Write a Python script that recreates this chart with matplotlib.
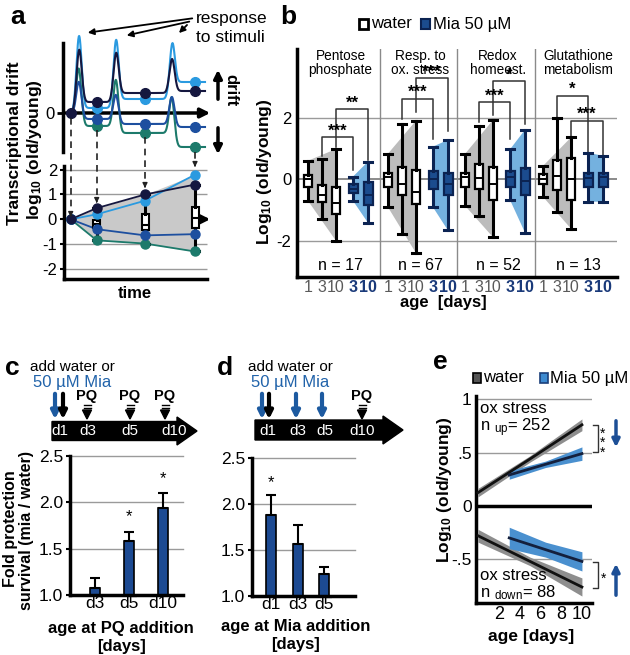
import numpy as np
import matplotlib
matplotlib.use('Agg')
import matplotlib.pyplot as plt
from matplotlib.patches import Polygon, Rectangle, FancyArrow

plt.rcParams['font.family'] = ['Liberation Sans', 'DejaVu Sans']
plt.rcParams['mathtext.fontset'] = 'custom'
plt.rcParams['mathtext.rm'] = 'Liberation Sans'
plt.rcParams['mathtext.bf'] = 'Liberation Sans:bold'
plt.rcParams['mathtext.it'] = 'Liberation Sans:italic'

# ---------------- data ----------------
# panel a: schematic
a_time = [70.7, 96.7, 145, 195]          # sampling times (schematic units)
a_stim = [79, 116, 172]                   # stimulus times
a_colors = ['#15173f', '#2a9ae0', '#1d4f9f', '#1c7a6b']
a_levels_navy = [0, 11, 20, 22]
a_levels_light = [0, 5, 14, 31]
a_levels_mid = [0, -6, -11, -14]
a_levels_teal = [0, -13, -20, -34]
a_peaks_navy = [63, 60, 54]
a_peaks_light = [77, 73, 69]
a_peaks_mid = [31, 18, 16]
a_peaks_teal = [44, 33, 15]
a_drift_navy = [0, 0.45, 1.0, 1.4]
a_drift_light = [0, 0.2, 0.75, 1.8]
a_drift_mid = [0, -0.4, -0.65, -0.6]
a_drift_teal = [0, -0.85, -0.98, -1.3]
a_box_q1 = [-0.36, -0.42, -0.36]
a_box_med = [-0.18, -0.22, 0.05]
a_box_q3 = [-0.03, 0.2, 0.5]

# panel b: boxes per group (water d1, d3, d10, Mia d3, d10)
b_groups = ['Pentose\nphosphate', 'Resp. to\nox. stress', 'Redox\nhomeost.', 'Glutathione\nmetabolism']
b_n = [17, 67, 52, 13]
b_ages = ['1', '3', '10', '3', '10']
b_whislo = [[-0.70, -1.31, -2.01, -0.70, -1.42], [-0.91, -1.78, -2.41, -0.91, -1.67],
            [-0.86, -1.19, -1.89, -0.67, -1.74], [-0.57, -1.06, -1.61, -0.73, -0.73]]
b_q1 = [[-0.24, -0.75, -1.14, -0.43, -0.84], [-0.24, -0.52, -0.82, -0.30, -0.52],
        [-0.24, -0.33, -0.67, -0.24, -0.52], [-0.16, -0.35, -0.66, -0.26, -0.26]]
b_med = [[0.01, -0.51, -0.77, -0.30, -0.51], [0.07, -0.16, -0.41, 0.0, -0.16],
         [0.07, 0.03, -0.16, 0.07, -0.04], [0.01, 0.12, 0.01, 0.05, 0.09]]
b_q3 = [[0.14, -0.19, -0.26, -0.15, -0.10], [0.20, 0.40, 0.31, 0.26, 0.22],
        [0.20, 0.51, 0.40, 0.26, 0.37], [0.16, 0.63, 0.69, 0.20, 0.22]]
b_whishi = [[0.61, 0.66, 0.99, 0.09, 0.58], [0.84, 1.81, 1.92, 1.07, 1.29],
            [0.83, 1.76, 1.94, 0.98, 1.62], [0.44, 2.00, 1.37, 0.87, 0.77]]
b_sig_labels = [['***', '**'], ['***', '***'], ['***', '*'], ['*', '***']]
b_sig_height = [[1.38, 2.30], [2.64, 3.31], [2.53, 3.22], [2.74, 1.92]]
b_sig_leg_left = [[0.75, 1.05], [1.96, 2.20], [1.89, 2.09], [2.05, 1.40]]
b_sig_leg_right = [[0.31, 0.63], [1.33, 1.59], [1.31, 1.81], [0.91, 0.80]]

# panel c / d
c_labels = ['d3', 'd5', 'd10']
c_vals = [1.08, 1.58, 1.94]
c_err = [0.10, 0.10, 0.16]
c_sig = ['', '*', '*']
d_labels = ['d1', 'd3', 'd5']
d_vals = [1.88, 1.57, 1.24]
d_err = [0.22, 0.20, 0.07]
d_sig = ['*', '', '']

# panel e
e_age_water = [0, 5, 10]
e_age_mia = [3, 6.5, 10]
e_up_water = [0.125, 0.44, 0.76]
e_up_water_ci = [0.04, 0.03, 0.055]
e_up_mia = [0.29, 0.39, 0.49]
e_up_mia_ci = [0.04, 0.03, 0.063]
e_dn_water = [-0.28, -0.52, -0.76]
e_dn_water_ci = [0.06, 0.04, 0.085]
e_dn_mia = [-0.30, -0.41, -0.52]
e_dn_mia_ci = [0.10, 0.07, 0.09]

# ---------------- figure ----------------
W, H = 630, 655
fig = plt.figure(figsize=(W / 100, H / 100), dpi=100)


def ax_px(x0, y0, x1, y1):
    a = fig.add_axes([x0 / W, 1 - y1 / H, (x1 - x0) / W, (y1 - y0) / H])
    a.patch.set_alpha(0)
    return a


GRID = '#9a9a9a'
NAVY = '#1c4a92'
BLUE_TXT = '#2163aa'

# ---------- panel a top (schematic) ----------
axt = ax_px(63, 28, 215, 160)
axt.set_xlim(63, 215)
axt.set_ylim(-47, 85)
for s in ['top', 'right', 'bottom']:
    axt.spines[s].set_visible(False)
axt.spines['left'].set_bounds(-39, 70)
axt.spines['left'].set_linewidth(2.5)
axt.set_xticks([])
axt.set_yticks([0])
axt.set_yticklabels(['0'], fontsize=12)
axt.tick_params(axis='y', length=4, width=2, pad=2)
axt.annotate('', xy=(213, 0), xytext=(63, 0),
             arrowprops=dict(arrowstyle='-|>', color='k', lw=2.5, mutation_scale=14),
             annotation_clip=False)

xs = np.linspace(a_time[0], 205, 800)


def schematic(levels, peaks, width=2.6):
    y = np.full_like(xs, float(levels[0]))
    for i, xp in enumerate(a_stim):
        step = 1 / (1 + np.exp(-(xs - xp) / 1.2))
        y += (levels[i + 1] - levels[i]) * step
        base = (levels[i] + levels[i + 1]) / 2
        y += (peaks[i] - base) * np.exp(-0.5 * ((xs - xp) / width) ** 2)
    return y


a_lv = [a_levels_navy, a_levels_light, a_levels_mid, a_levels_teal]
a_pk = [a_peaks_navy, a_peaks_light, a_peaks_mid, a_peaks_teal]
for order in [3, 2, 1, 0]:
    axt.plot(xs, schematic(a_lv[order], a_pk[order]), color=a_colors[order], lw=1.5,
             clip_on=False, zorder=3)
for order in [3, 2, 1, 0]:
    axt.plot(a_time[1:], a_lv[order][1:], 'o', color=a_colors[order], ms=7, zorder=5, clip_on=False)
axt.plot([a_time[0]], [0], 'o', color=a_colors[0], ms=7, zorder=6, clip_on=False)

# ---------- panel a bottom ----------
axb = ax_px(64, 166, 213, 279)
axb.set_xlim(64, 213)
axb.set_ylim(-2.41, 2.15)
for s in ['top', 'right']:
    axb.spines[s].set_visible(False)
axb.spines['left'].set_linewidth(2.5)
axb.spines['bottom'].set_linewidth(2.5)
axb.spines['bottom'].set_bounds(64, 207)
axb.set_xticks([])
axb.set_yticks([2, 1, 0, -1, -2])
axb.set_yticklabels(['2', '1', '0', '-1', '-2'], fontsize=12)
axb.tick_params(axis='y', length=3, width=1.5, pad=2)
axb.hlines([2, 1, -1, -2], 64, 207, color=GRID, lw=1, zorder=0)
axb.annotate('', xy=(213, 0), xytext=(64, 0),
             arrowprops=dict(arrowstyle='-|>', color='k', lw=2.5, mutation_scale=14),
             annotation_clip=False, zorder=1)
drifts = np.array([a_drift_navy, a_drift_light, a_drift_mid, a_drift_teal])
axb.fill_between(a_time, drifts.max(axis=0), drifts.min(axis=0), color='#c9c9c9', zorder=1, lw=0)
for i in [3, 2, 1, 0]:
    axb.plot(a_time, drifts[i], '-', color=a_colors[i], lw=1.3, zorder=2)
stats = []
for j in range(3):
    stats.append(dict(med=a_box_med[j], q1=a_box_q1[j], q3=a_box_q3[j],
                      whislo=drifts[:, j + 1].min(), whishi=drifts[[0, 2, 3], j + 1].max()))
bp = axb.bxp(stats, positions=a_time[1:], widths=7, capwidths=7, patch_artist=True,
             showfliers=False, manage_ticks=False,
             boxprops=dict(facecolor='white', edgecolor='k', lw=1.5),
             whiskerprops=dict(color='k', lw=2.2), capprops=dict(color='k', lw=2.2),
             medianprops=dict(color='k', lw=1.5))
for art in bp['boxes'] + bp['whiskers'] + bp['caps'] + bp['medians']:
    art.set_zorder(3)
for i in [3, 2, 1, 0]:
    axb.plot(a_time, drifts[i], 'o', color=a_colors[i], ms=6.5, zorder=4, clip_on=False)

# ---------- panel b ----------
axB = ax_px(297, 49, 617, 277)
axB.set_xlim(0, 320)
axB.set_ylim(-3.19, 4.26)
for s in ['top', 'right']:
    axB.spines[s].set_visible(False)
axB.spines['left'].set_linewidth(2.5)
axB.spines['bottom'].set_linewidth(2.5)
axB.axhline(2, color=GRID, lw=1, zorder=0)
axB.axhline(-2, color=GRID, lw=1, zorder=0)
axB.axhline(0, color='#777777', lw=1.2, zorder=0)
group_left = [3, 83, 160, 238]
group_edges = [0, 83, 160, 238, 320]
box_off = [8, 22, 36, 53, 68]
for xv in group_edges[1:-1]:
    axB.axvline(xv, color='#8a8a8a', lw=1, zorder=0)
all_pos, all_lab = [], []
for g in range(4):
    pos = [group_left[g] + o for o in box_off]
    all_pos += pos
    all_lab += b_ages
    wl, wh = b_whislo[g], b_whishi[g]
    axB.add_patch(Polygon([(pos[0], wh[0]), (pos[2], wh[2]), (pos[2], wl[2]), (pos[0], wl[0])],
                          closed=True, fc='#bcbcbc', ec='none', zorder=1))
    axB.add_patch(Polygon([(pos[3], wh[3]), (pos[4], wh[4]), (pos[4], wl[4]), (pos[3], wl[3])],
                          closed=True, fc='#74b1df', ec='none', zorder=1))
    st = [dict(med=b_med[g][k], q1=b_q1[g][k], q3=b_q3[g][k], whislo=wl[k], whishi=wh[k])
          for k in range(5)]
    bw = axB.bxp(st[:3], positions=pos[:3], widths=8, capwidths=8, patch_artist=True,
                 showfliers=False, manage_ticks=False,
                 boxprops=dict(facecolor='white', edgecolor='k', lw=1.6),
                 whiskerprops=dict(color='k', lw=2.2), capprops=dict(color='k', lw=2.2),
                 medianprops=dict(color='k', lw=1.4))
    bm = axB.bxp(st[3:], positions=pos[3:], widths=9, capwidths=8, patch_artist=True,
                 showfliers=False, manage_ticks=False,
                 boxprops=dict(facecolor='#1b4c8e', edgecolor='#0b2352', lw=1.6),
                 whiskerprops=dict(color='#0b2352', lw=2.2), capprops=dict(color='#0b2352', lw=2.2),
                 medianprops=dict(color='#0b2352', lw=1.4))
    for d in (bw, bm):
        for art in d['boxes'] + d['whiskers'] + d['caps'] + d['medians']:
            art.set_zorder(3)
    # significance brackets
    for k, (li, ri) in enumerate([(1, 3), (2, 4)]):
        yh = b_sig_height[g][k]
        axB.plot([pos[li], pos[li], pos[ri], pos[ri]],
                 [b_sig_leg_left[g][k], yh, yh, b_sig_leg_right[g][k]],
                 color='#333333', lw=1.1, zorder=2, clip_on=False)
        axB.text((pos[li] + pos[ri]) / 2, yh - 0.05, b_sig_labels[g][k], ha='center', va='bottom',
                 fontsize=12, fontweight='bold', zorder=4)
    cx = (group_edges[g] + group_edges[g + 1]) / 2
    axB.text(cx + 2, 4.26, b_groups[g], ha='center', va='top', fontsize=9.8, linespacing=0.98)
    axB.text(cx + 2, -2.8, 'n = %d' % b_n[g], ha='center', va='center', fontsize=11.5)
axB.set_xticks(all_pos)
axB.set_xticklabels(all_lab, fontsize=11.5)
for i, t in enumerate(axB.get_xticklabels()):
    if i % 5 >= 3:
        t.set_color('#1a3a7a')
        t.set_fontweight('bold')
    else:
        t.set_color('#5a5a5a')
axB.tick_params(axis='x', length=0, pad=2)
axB.set_yticks([2, 0, -2])
axB.set_yticklabels(['2', '0', '-2'], fontsize=12)
axB.tick_params(axis='y', length=0, pad=4)

# ---------- panel c ----------
axc = ax_px(70, 456, 183, 595)
axc.set_xlim(-0.74, 2.6)
axc.set_ylim(1.0, 2.5)
xc = np.arange(len(c_vals))
axc.bar(xc, np.array(c_vals) - 1.0, bottom=1.0, width=0.3, color=NAVY, edgecolor='k', lw=1.2, zorder=2)
axc.errorbar(xc, c_vals, yerr=[np.zeros(3), c_err], fmt='none', ecolor='k', elinewidth=1.5,
             capsize=3.5, capthick=1.5, zorder=3)
for i, s in enumerate(c_sig):
    if s:
        axc.text(xc[i], c_vals[i] + c_err[i] + 0.08, s, ha='center', va='bottom', fontsize=12)
axd = ax_px(252, 458, 355, 596)
axd.set_xlim(-0.72, 3.17)
axd.set_ylim(1.0, 2.5)
xd = np.arange(len(d_vals))
axd.bar(xd, np.array(d_vals) - 1.0, bottom=1.0, width=0.38, color=NAVY, edgecolor='k', lw=1.2, zorder=2)
axd.errorbar(xd, d_vals, yerr=[np.zeros(3), d_err], fmt='none', ecolor='k', elinewidth=1.5,
             capsize=3.5, capthick=1.5, zorder=3)
for i, s in enumerate(d_sig):
    if s:
        axd.text(xd[i], d_vals[i] + d_err[i] + 0.05, s, ha='center', va='bottom', fontsize=12)
for a, labs in [(axc, c_labels), (axd, d_labels)]:
    for s in ['top', 'right']:
        a.spines[s].set_visible(False)
    a.spines['left'].set_linewidth(2.5)
    a.spines['bottom'].set_linewidth(2.5)
    a.set_yticks([1.0, 1.5, 2.0, 2.5])
    a.set_yticklabels(['1.0', '1.5', '2.0', '2.5'], fontsize=12.5)
    a.tick_params(axis='y', length=3, width=1.5, pad=2)
    a.set_xticks(range(3))
    a.set_xticklabels(labs, fontsize=12.5)
    a.tick_params(axis='x', length=0, pad=1)
    for yv in [1.5, 2.0, 2.5]:
        a.axhline(yv, color=GRID, lw=1, zorder=0, clip_on=False)

# ---------- panel e ----------
axe = ax_px(476, 396, 592, 603)
axe.set_xlim(-0.2, 10.97)
axe.set_ylim(-0.91, 1.03)
for s in ['top', 'right']:
    axe.spines[s].set_visible(False)
axe.spines['left'].set_linewidth(2.5)
axe.spines['bottom'].set_linewidth(2.5)
for yv in [1, 0.5, -0.5]:
    axe.axhline(yv, color=GRID, lw=1, zorder=0)
axe.axhline(0, color='k', lw=2.5, zorder=1)
for xa, yv, ci, fc, lc in [
        (e_age_water, e_up_water, e_up_water_ci, '#8e8e8e', '#111111'),
        (e_age_water, e_dn_water, e_dn_water_ci, '#8e8e8e', '#111111'),
        (e_age_mia, e_up_mia, e_up_mia_ci, '#4a90cf', '#14203d'),
        (e_age_mia, e_dn_mia, e_dn_mia_ci, '#4a90cf', '#14203d')]:
    yv = np.array(yv)
    ci = np.array(ci)
    axe.fill_between(xa, yv - ci, yv + ci, color=fc, lw=0, zorder=2)
    axe.plot(xa, yv, color=lc, lw=2, zorder=3)
axe.set_yticks([1, 0.5, 0, -0.5])
axe.set_yticklabels(['1', '.5', '0', '-.5'], fontsize=12.5)
axe.tick_params(axis='y', length=0, pad=3)
axe.set_xticks([2, 4, 6, 8, 10])
axe.set_xticklabels(['2', '4', '6', '8', '10'], fontsize=13)
axe.tick_params(axis='x', length=0, pad=2)

# ---------- overlay annotations ----------
ov = fig.add_axes([0, 0, 1, 1])
ov.set_xlim(0, W)
ov.set_ylim(H, 0)
ov.axis('off')
ov.patch.set_alpha(0)

# panel letters
for lab, x, y in [('a', 18, 17), ('b', 288, 17), ('c', 12, 368), ('d', 225, 368), ('e', 440, 362)]:
    ov.text(x, y, lab, fontsize=19, fontweight='bold', ha='center', va='center')

# panel a annotations
ov.text(196, 18, 'response', fontsize=12.5, va='center')
ov.text(196, 37, 'to stimuli', fontsize=12.5, va='center')
for (x0, y0), (x1, y1) in [((195, 18), (85, 33)), ((192, 21), (124, 36)), ((189, 23), (177, 35))]:
    ov.annotate('', xy=(x1, y1), xytext=(x0, y0),
                arrowprops=dict(arrowstyle='-|>', color='k', lw=1.3, mutation_scale=9))
ov.annotate('', xy=(218, 67), xytext=(218, 102),
            arrowprops=dict(arrowstyle='-|>', color='k', lw=2.5, mutation_scale=12))
ov.annotate('', xy=(218, 157), xytext=(218, 125),
            arrowprops=dict(arrowstyle='-|>', color='k', lw=2.5, mutation_scale=12))
ov.text(231, 90, 'drift', rotation=270, fontsize=12, fontweight='bold', ha='center', va='center')
ov.text(15, 143, 'Transcriptional drift', rotation=90, fontsize=12.5, fontweight='bold',
        ha='center', va='center')
ov.text(34, 150, 'log$_{\\mathbf{10}}$ (old/young)', rotation=90, fontsize=12.5, fontweight='bold',
        ha='center', va='center')
ov.text(135, 293, 'time', fontsize=12, fontweight='bold', ha='center', va='center')
dash_start = [118, 130, 137, 152]
dash_end = [213, 199, 184, 163]
for x, y0, y1 in zip(a_time, dash_start, dash_end):
    ov.plot([x, x], [y0, y1], color='#222222', lw=1.2, ls=(0, (4, 3)))
    ov.annotate('', xy=(x, y1 + 4), xytext=(x, y1 - 1),
                arrowprops=dict(arrowstyle='-|>', color='#222222', lw=1, mutation_scale=7))

# panel b annotations
ov.add_patch(Rectangle((359, 19), 9, 10, fc='white', ec='k', lw=2))
ov.text(371, 24, 'water', fontsize=12, va='center')
ov.add_patch(Rectangle((421, 19), 9, 10, fc='#1b4c8e', ec='#0b2352', lw=1.5))
ov.text(433, 24, 'Mia 50 µM', fontsize=12, va='center')
ov.text(264, 172, 'Log$_{\\mathbf{10}}$ (old/young)', rotation=90, fontsize=12.5, fontweight='bold',
        ha='center', va='center')
ov.text(443, 302, 'age  [days]', fontsize=12, fontweight='bold', ha='center', va='center')

# panel c / d timelines
BLUE_ARR = '#1d5aa0'
ov.add_patch(FancyArrow(52, 431, 145, 0, width=19, head_width=28, head_length=20,
                        length_includes_head=True, color='k'))
ov.add_patch(FancyArrow(255, 430, 148, 0, width=20, head_width=28, head_length=20,
                        length_includes_head=True, color='k'))
for lab, x in [('d1', 60), ('d3', 88), ('d5', 130), ('d10', 174), ('d1', 268), ('d3', 298),
               ('d5', 325), ('d10', 362)]:
    ov.text(x, 431, lab, color='white', fontsize=11, ha='center', va='center')
for x0, txt_y in [(72, 367), (290, 367)]:
    ov.text(x0, txt_y, 'add water or', fontsize=11, ha='center', va='center')
    ov.text(x0, txt_y + 16, '50 µM Mia', fontsize=12, ha='center', va='center', color=BLUE_TXT)
for x, col in [(55, BLUE_ARR), (63, 'k'), (262, BLUE_ARR), (269, 'k'), (296, BLUE_ARR), (322, BLUE_ARR)]:
    ov.annotate('', xy=(x, 422), xytext=(x, 391),
                arrowprops=dict(arrowstyle='-|>', color=col, lw=3, mutation_scale=11))
for x in [87, 130, 165, 362]:
    ov.text(x, 396, 'PQ', fontsize=10.5, fontweight='bold', ha='center', va='center')
    ov.plot([x - 3.5, x + 3.5], [405, 405], color='k', lw=1)
    ov.plot([x - 3.5, x + 3.5], [408, 408], color='k', lw=1)
    ov.add_patch(Polygon([(x - 4.5, 410), (x + 4.5, 410), (x, 419)], closed=True, fc='k', ec='k'))
ov.text(11, 529, 'Fold protection', rotation=90, fontsize=11.5, fontweight='bold', ha='center', va='center')
ov.text(27, 530, 'survival (mia / water)', rotation=90, fontsize=11.5, fontweight='bold',
        ha='center', va='center')
ov.text(121, 628, 'age at PQ addition', fontsize=12, fontweight='bold', ha='center', va='center')
ov.text(121, 647, '[days]', fontsize=12, fontweight='bold', ha='center', va='center')
ov.text(296, 626, 'age at Mia addition', fontsize=12, fontweight='bold', ha='center', va='center')
ov.text(296, 645, '[days]', fontsize=12, fontweight='bold', ha='center', va='center')

# panel e annotations
ov.add_patch(Rectangle((473, 373), 8, 10, fc='#555555', ec='k', lw=1.2))
ov.text(483, 378, 'water', fontsize=12, va='center')
ov.add_patch(Rectangle((540, 373), 8, 10, fc='#3d8ad0', ec='#1b3f7a', lw=1.2))
ov.text(550, 378, 'Mia 50 µM', fontsize=12, va='center')
ov.text(480, 420, 'ox stress\nn $_{\\rm up}$= 252', fontsize=12, va='center', linespacing=1.0)
ov.text(480, 585, 'ox stress\nn $_{\\rm down}$= 88', fontsize=12, va='center', linespacing=1.0)
ov.plot([593, 598, 598, 593], [425, 425, 452, 452], color='#333333', lw=1)
ov.text(603, 443, '*\n*\n*', fontsize=10, ha='center', va='center', linespacing=0.6)
ov.plot([593, 598, 598, 593], [562, 562, 588, 588], color='#333333', lw=1)
ov.text(604, 579, '*', fontsize=10, ha='center', va='center')
ov.annotate('', xy=(616, 450), xytext=(616, 418),
            arrowprops=dict(arrowstyle='-|>', color='#1d4f96', lw=2.5, mutation_scale=11))
ov.annotate('', xy=(616, 561), xytext=(616, 598),
            arrowprops=dict(arrowstyle='-|>', color='#1d4f96', lw=2.5, mutation_scale=11))
ov.text(445, 490, 'Log$_{\\mathbf{10}}$ (old/young)', rotation=90, fontsize=12.5, fontweight='bold',
        ha='center', va='center')
ov.text(531, 636, 'age [days]', fontsize=12.5, fontweight='bold', ha='center', va='center')

fig.savefig('out.png', dpi=100)
